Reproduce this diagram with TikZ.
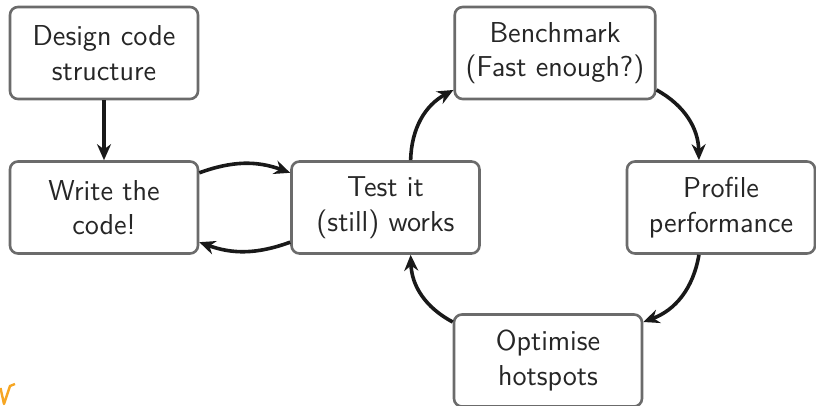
\documentclass[tikz,border=0pt]{standalone}
\usetikzlibrary{arrows.meta}
\definecolor{amber}{HTML}{F6A623}

\begin{document}
\begin{tikzpicture}[x=0.5pt, y=-0.5pt,
    font=\sffamily\fontsize{14.4}{17.3}\selectfont,
    stage/.style={draw=black!58, line width=1.3pt, rounded corners=4pt, fill=white,
        text=black!85, align=center, minimum width=94pt, minimum height=46pt, inner sep=5.5pt},
    flow/.style={-{Stealth[length=8pt,width=7pt]}, line width=1.8pt, black!90}]
    \useasboundingbox (0,0) rectangle (816,406);

    % the six stages, placed in pixel units
    \foreach \name/\x/\y/\label in {design/104/53/{Design code\\structure},
                                   write/104/207.5/{Write the\\code!},
                                   test/385.5/207.5/{Test it\\(still) works},
                                   bench/555/53/{Benchmark\\(Fast enough?)},
                                   profile/721/207.5/{Profile\\performance},
                                   optimise/548/360.5/{Optimise\\hotspots}} {
        \node[stage] (\name) at (\x,\y) {\label};
    }

    \draw[flow] (design) -- (write);
    \draw[flow] (write.20) to[bend left=20] (test.160);
    \draw[flow] (test.200) to[bend left=20] (write.-20);

    % optimisation loop
    \draw[flow] (test.62) to[bend left=30] (bench.200);
    \draw[flow] (bench.-20) to[bend left=30] (profile.115);
    \draw[flow] (profile.245) to[bend left=30] (optimise.22);
    \draw[flow] (optimise.158) to[bend left=30] (test.-62);

    \draw[amber, line width=1.2pt, line join=round] (0.5,388) -- (4,404) -- (10,386) -- (15,384);
\end{tikzpicture}
\end{document}
